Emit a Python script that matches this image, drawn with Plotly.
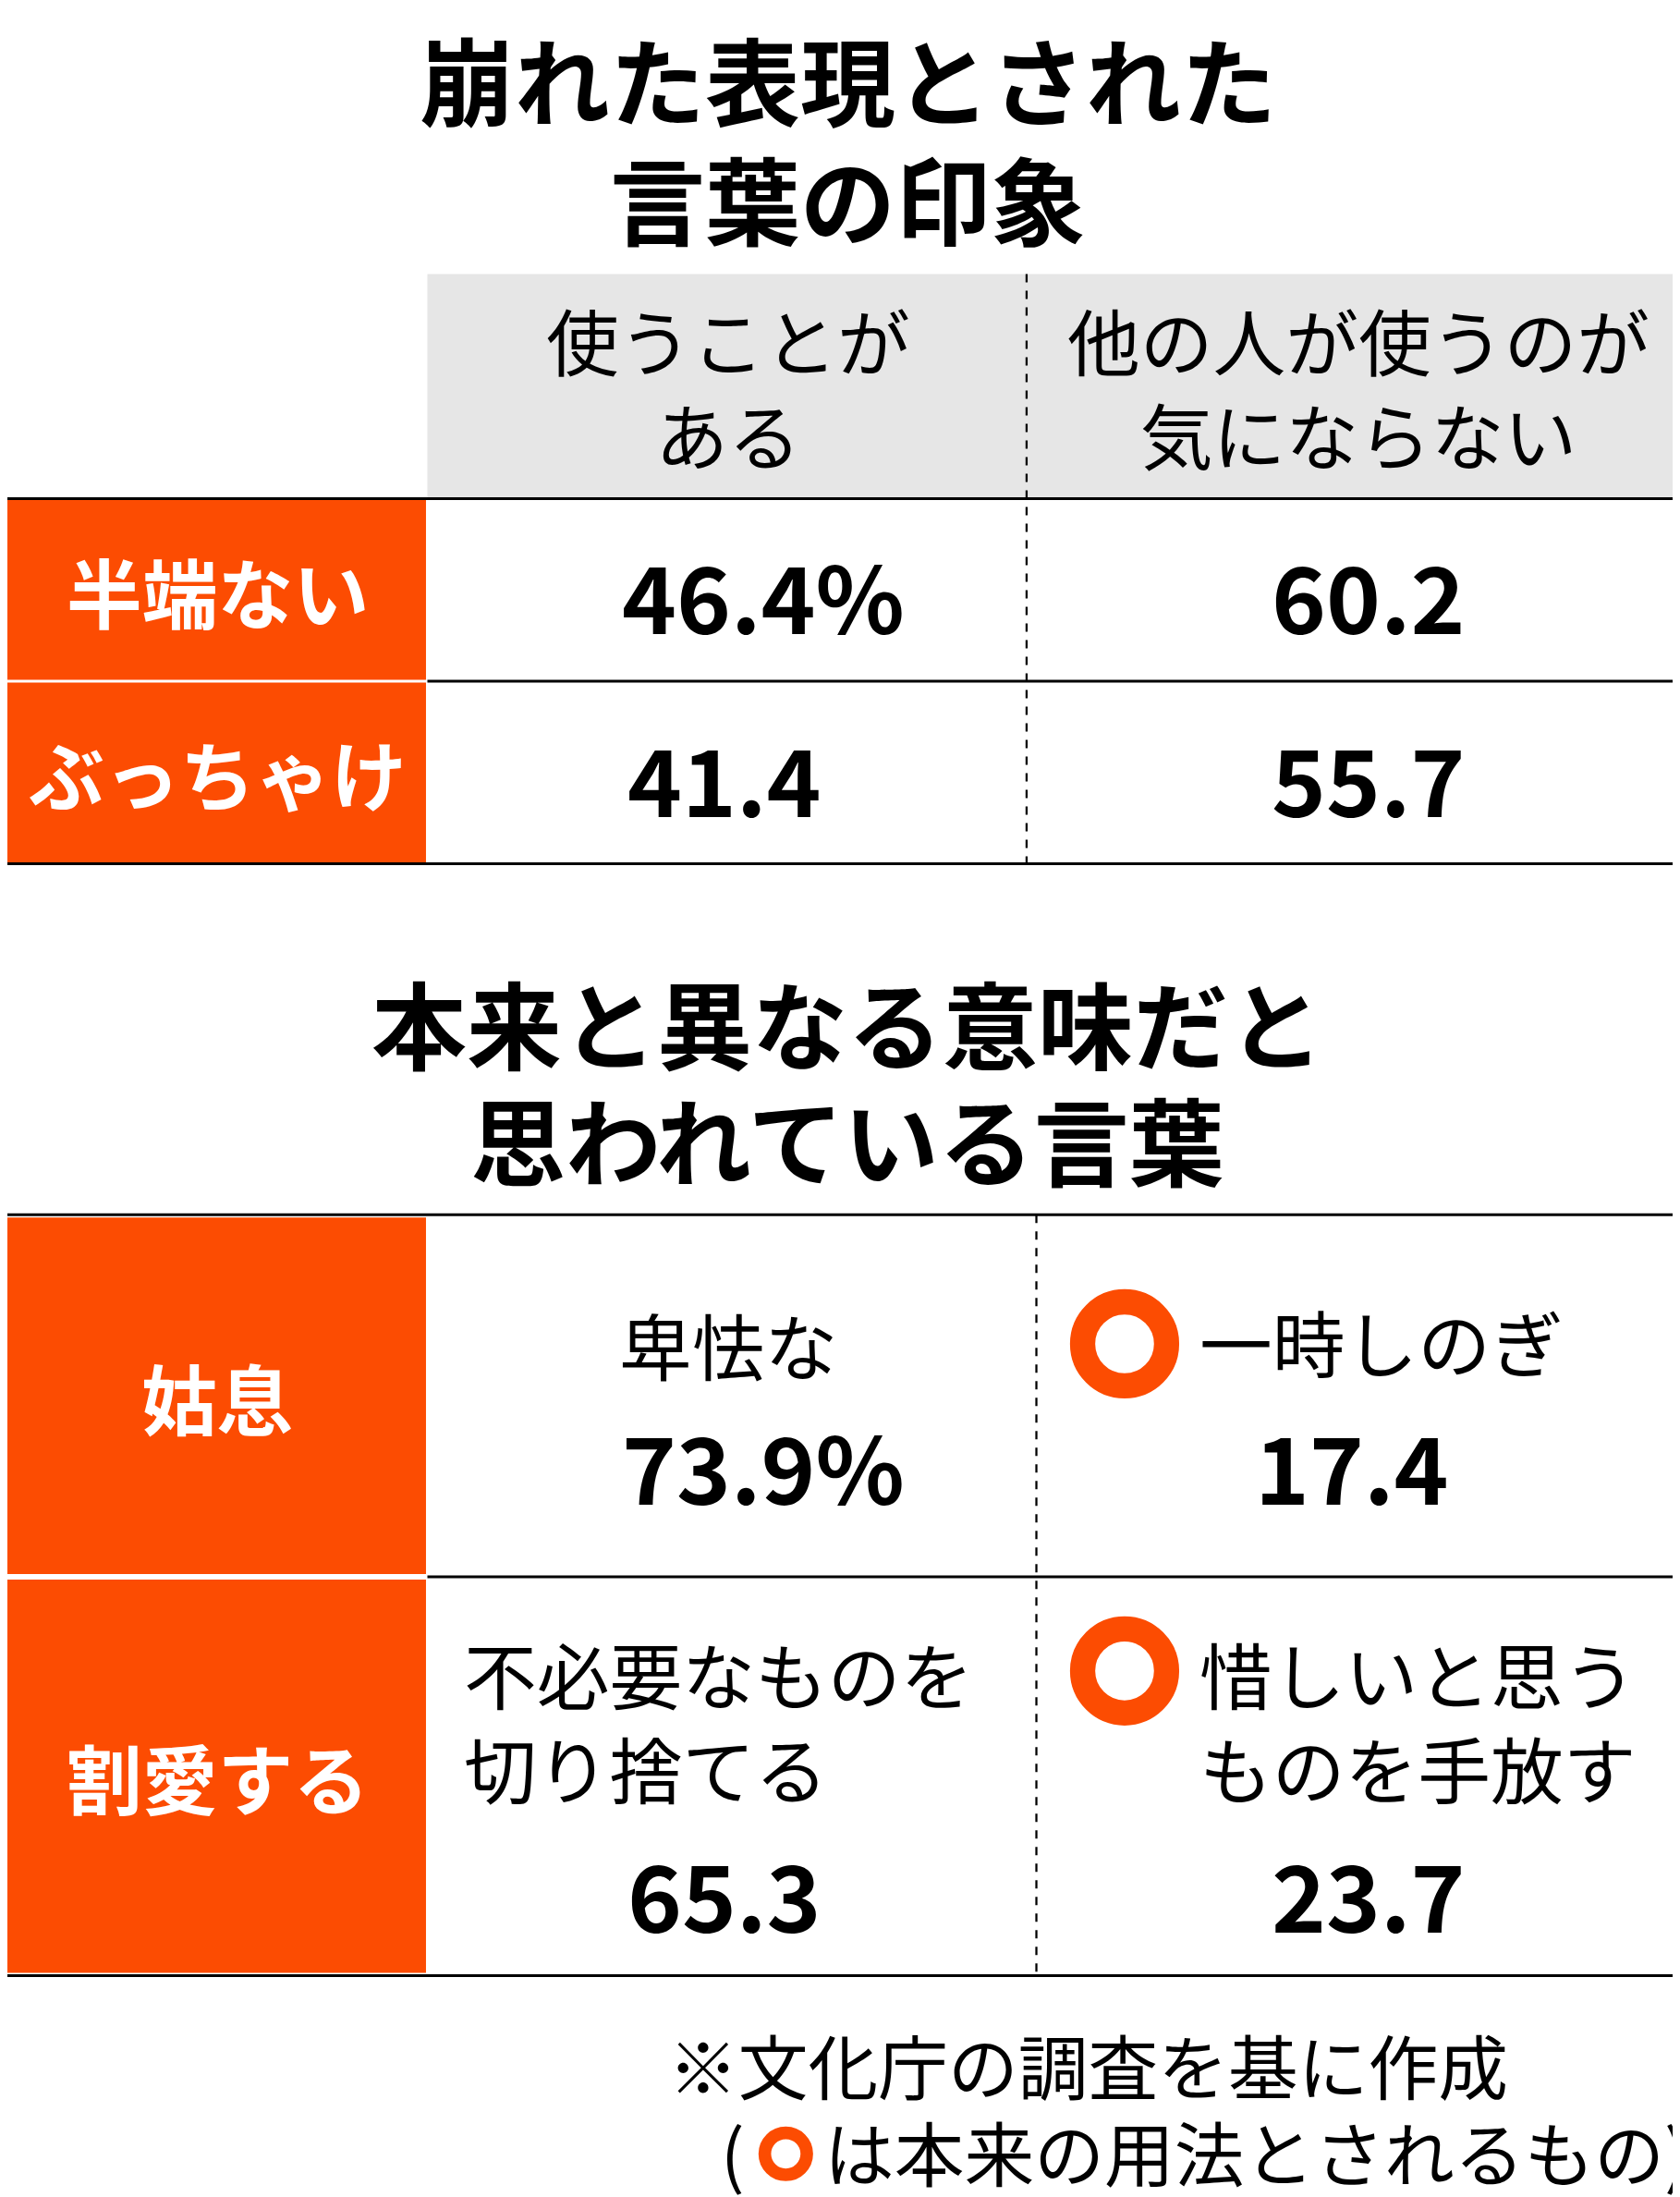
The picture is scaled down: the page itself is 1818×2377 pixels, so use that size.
import plotly.graph_objects as go

title1 = ["崩れた表現とされた", "言葉の印象"]
col_headers = ["使うことが<br>ある", "他の人が使うのが<br>気にならない"]
words1 = ["半端ない", "ぶっちゃけ"]
use_vals = ["46.4%", "41.4"]
ok_vals = ["60.2", "55.7"]
title2 = ["本来と異なる意味だと", "思われている言葉"]
words2 = ["姑息", "割愛する"]
wrong_meanings = ["卑怯な", "不必要なものを<br>切り捨てる"]
wrong_vals = ["73.9%", "65.3"]
right_meanings = ["一時しのぎ", "惜しいと思う<br>ものを手放す"]
right_vals = ["17.4", "23.7"]
footnotes = ["※文化庁の調査を基に作成", "は本来の用法とされるもの)"]

W, H = 1818, 2377
S = W / 1200
ORANGE = "#FC4C02"
FONT = "Noto Sans CJK JP"

fig = go.Figure()
shapes = []
ann = []

def text(x, y, t, size, bold=False, color="black", anchor="center"):
    ann.append(dict(x=x, y=y, text=f"<b>{t}</b>" if bold else t, showarrow=False,
                    xanchor=anchor, yanchor="middle", align="left" if anchor == "left" else "center",
                    font=dict(family=FONT, size=size * S, color=color)))

def rect(x0, y0, x1, y1, color):
    shapes.append(dict(type="rect", x0=x0, x1=x1, y0=y0, y1=y1, fillcolor=color, line_width=0, layer="below"))

def line(x0, y0, x1, y1, dash="solid", w=2):
    shapes.append(dict(type="line", x0=x0, x1=x1, y0=y0, y1=y1, line=dict(color="black", width=w * S, dash=dash)))

# Section 1
text(600, 50, title1[0], 68, True)
text(600, 135, title1[1], 68, True)
rect(300, 190, 1200, 350, "#e6e6e6")
text(515, 270, col_headers[0], 52)
text(965, 270, col_headers[1], 52)
line(728, 190, 728, 610, "dash", 1.5)
for i, (w, a, b) in enumerate(zip(words1, use_vals, ok_vals)):
    y0 = 350 + i * 130
    rect(0, y0 + 1, 299, y0 + 129, ORANGE)
    text(150, y0 + 65, w, 54, True, "white")
    text(540 if "%" in a else 512, y0 + 68, a, 66, True)
    text(972, y0 + 68, b, 66, True)
for y in (350, 480, 610):
    line(0 if y != 480 else 300, y, 1200, y)

# Section 2
text(600, 722, title2[0], 68, True)
text(600, 805, title2[1], 68, True)
line(0, 860, 1200, 860)
line(300, 1118, 1200, 1118)
line(0, 1402, 1200, 1402)
line(735, 860, 735, 1400, "dash", 1.5)
rows = [(862, 1116), (1120, 1400)]
circ_x, circ_y = [], []
for i, ((y0, y1), w) in enumerate(zip(rows, words2)):
    rect(0, y0, 299, y1, ORANGE)
    text(150, (y0 + y1) / 2, w, 54, True, "white")
for i in range(2):
    if i == 0:
        text(515, 952, wrong_meanings[0], 52)
        text(540, 1038, wrong_vals[0], 66, True)
        text(850, 950, right_meanings[0], 52, anchor="left")
        text(960, 1038, right_vals[0], 66, True)
        circ_x.append(798); circ_y.append(952)
    else:
        text(325, 1220, wrong_meanings[1], 52, anchor="left")
        text(512, 1343, wrong_vals[1], 66, True)
        text(850, 1220, right_meanings[1], 52, anchor="left")
        text(972, 1343, right_vals[1], 66, True)
        circ_x.append(798); circ_y.append(1185)

text(772, 1465, footnotes[0], 50)
text(508, 1527, "(", 50, anchor="left")
text(582, 1527, footnotes[1], 50, anchor="left")

fig.add_trace(go.Scatter(x=circ_x, y=circ_y, mode="markers", hoverinfo="skip",
                         marker=dict(symbol="circle", size=60 * S, color="white",
                                     line=dict(color=ORANGE, width=18 * S))))
fig.add_trace(go.Scatter(x=[556], y=[1529], mode="markers", hoverinfo="skip",
                         marker=dict(symbol="circle", size=30 * S, color="white",
                                     line=dict(color=ORANGE, width=9 * S))))

fig.update_layout(width=W, height=H, margin=dict(l=0, r=0, t=0, b=0),
                  paper_bgcolor="white", plot_bgcolor="white", showlegend=False,
                  shapes=shapes, annotations=ann,
                  xaxis=dict(range=[0, 1200], visible=False, fixedrange=True),
                  yaxis=dict(range=[1565, 0], visible=False, fixedrange=True))
fig.write_html("out.html", config={"displayModeBar": False})
